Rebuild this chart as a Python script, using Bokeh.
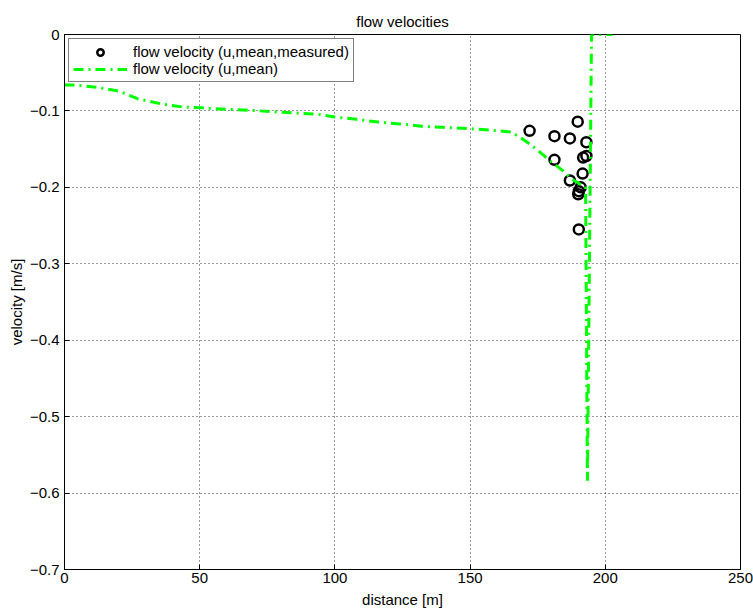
from bokeh.plotting import figure
from bokeh.models import Range1d, FixedTicker, Legend, LegendItem
from bokeh.embed import file_html
from bokeh.resources import INLINE

# measured points
meas_x = [172.0, 181.2, 186.9, 189.8, 193.0, 181.2, 191.8, 193.0, 191.6, 186.9, 190.9, 190.2, 190.0, 190.2]
meas_y = [-0.126, -0.133, -0.136, -0.114, -0.141, -0.164, -0.161, -0.159, -0.182, -0.191, -0.200, -0.205, -0.209, -0.255]

# modelled mean velocity
line_x = [0, 3, 12, 20, 27, 36, 44, 51, 60, 68, 77, 87, 94, 100, 108, 116, 124, 132, 140, 149, 157, 165,
          168.6, 172, 175.3, 179.7, 184.5, 187.5, 190.8, 192.7, 193.4, 194.9, 202.7]
line_y = [-0.066, -0.066, -0.069, -0.074, -0.084, -0.091, -0.095, -0.096, -0.098, -0.099, -0.101, -0.103,
          -0.1045, -0.108, -0.111, -0.1145, -0.117, -0.120, -0.1215, -0.123, -0.125, -0.1276,
          -0.135, -0.143, -0.1525, -0.1656, -0.1787, -0.189, -0.196, -0.200, -0.584, 0.0, 0.0]

x_ticks = [0, 50, 100, 150, 200, 250]
x_tick_labels = ["0", "50", "100", "150", "200", "250"]
y_ticks = [0, -0.1, -0.2, -0.3, -0.4, -0.5, -0.6, -0.7]
y_tick_labels = ["0", "\u22120.1", "\u22120.2", "\u22120.3", "\u22120.4", "\u22120.5", "\u22120.6", "\u22120.7"]

FONT = "Liberation Sans"
FS = "15px"

p = figure(width=753, height=612, output_backend="svg", toolbar_location=None,
           x_range=Range1d(0, 250), y_range=Range1d(-0.7, 0),
           min_border_left=64, min_border_right=13, min_border_top=34, min_border_bottom=43,
           title="flow velocities")
p.title.align = "center"
p.title.text_font = FONT
p.title.text_font_size = FS
p.title.text_font_style = "normal"
p.title.text_color = "black"
p.title.standoff = 10

p.outline_line_color = "black"
p.outline_line_width = 1

for ax in (p.xaxis[0], p.yaxis[0]):
    ax.major_tick_in = 5
    ax.major_tick_out = 0
    ax.minor_tick_line_color = None
    ax.axis_line_color = "black"
    ax.major_tick_line_color = "black"
    ax.major_label_text_font = FONT
    ax.major_label_text_font_size = FS
    ax.major_label_text_color = "black"
    ax.axis_label_text_font = FONT
    ax.axis_label_text_font_size = FS
    ax.axis_label_text_font_style = "normal"
    ax.axis_label_text_color = "black"

p.xaxis[0].major_label_standoff = 3
p.xaxis[0].axis_label_standoff = 5
p.yaxis[0].major_label_standoff = 5
p.yaxis[0].axis_label_standoff = 2
p.xaxis[0].ticker = FixedTicker(ticks=x_ticks)
p.xaxis[0].major_label_overrides = dict(zip(x_ticks, x_tick_labels))
p.yaxis[0].ticker = FixedTicker(ticks=y_ticks)
p.yaxis[0].major_label_overrides = dict(zip(y_ticks, y_tick_labels))
p.xaxis[0].axis_label = "distance [m]"
p.yaxis[0].axis_label = "velocity [m/s]"

p.xgrid.ticker = FixedTicker(ticks=x_ticks)
p.ygrid.ticker = FixedTicker(ticks=y_ticks)
for g in (p.xgrid[0], p.ygrid[0]):
    g.grid_line_color = "#333333"
    g.grid_line_dash = "1 3"
    g.grid_line_width = 1

r_pts = p.scatter(meas_x, meas_y, marker="circle", size=10, fill_color=None,
                  line_color="black", line_width=2.5)
r_line = p.line(line_x, line_y, line_color="#00ff00", line_width=3, line_dash="10 5 2 5")

legend = Legend(items=[LegendItem(label="flow velocity (u,mean,measured)", renderers=[r_pts]),
                       LegendItem(label="flow velocity (u,mean)", renderers=[r_line])],
                location="top_left")
legend.margin = 4
legend.padding = 4
legend.spacing = 0
legend.glyph_width = 54
legend.glyph_height = 16
legend.label_standoff = 6
legend.label_height = 16
legend.label_text_font = FONT
legend.label_text_font_size = FS
legend.label_text_color = "black"
legend.border_line_color = "black"
legend.border_line_width = 1
legend.background_fill_alpha = 1
p.add_layout(legend, "center")

open("out.html", "w").write(file_html(p, INLINE))
